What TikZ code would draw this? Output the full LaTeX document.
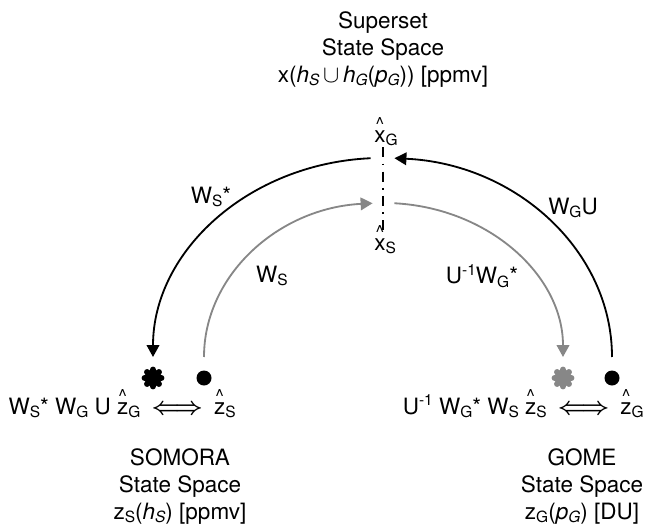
\documentclass[tikz,border=0pt]{standalone}
\usepackage{amsmath,amssymb}
\usepackage{fontspec}
\setmainfont{TeX Gyre Heros}
\usetikzlibrary{arrows.meta}
\definecolor{arcgray}{gray}{0.53}
\newcommand{\hatted}[1]{\ooalign{#1\cr\hidewidth\raisebox{8pt}{\fontsize{13}{13}\selectfont\textasciicircum}\hidewidth\cr}}
\newcommand{\lo}[1]{\raisebox{-2.5pt}{\fontsize{11}{11}\selectfont #1}}
\newcommand{\hi}[1]{\raisebox{6pt}{\fontsize{11}{11}\selectfont #1}}

\begin{document}
\begin{tikzpicture}[x=0.025cm,y=0.025cm,>={Triangle[length=8.5pt,width=9pt]},
            every node/.style={font=\fontsize{16}{19}\selectfont,inner sep=0pt},
            blk/.style={line width=1.3pt,black},
            gry/.style={line width=1.3pt,arcgray},
            axisline/.style={line width=0.8pt,dash pattern=on 7pt off 4.5pt on 1.2pt off 4.5pt},
            dotnode/.style={circle,fill,minimum size=0.375cm,inner sep=0pt},
            astnode/.style={circle,minimum size=0.6cm,inner sep=0pt,
                path picture={\foreach \a in {0,45,90,135}
                    \draw[line width=4.3pt,line cap=round] (path picture bounding box.center) +(\a:0.21cm) -- +(\a+180:0.21cm);}}]
            \useasboundingbox (0,0) rectangle (656,528);
            \node[align=center,anchor=north] (super) at (383,516.5) {Superset\\State Space\\x(\textit{h}\lo{\textit{S}}\,$\cup$\,\textit{h}\lo{\textit{G}}(\textit{p}\lo{\textit{G}})) [ppmv]};
            \node[anchor=base west] (xg) at (374,386) {\hatted{x}\lo{G}};
            \node[anchor=base west] (xs) at (374,278) {\hatted{x}\lo{S}};
            \coordinate (axis) at (383,0);
            \draw[axisline] ([yshift=-1pt]xg.south -| axis) -- ([yshift=2pt]xs.north -| axis);
            \node[dotnode] (sdot) at (204,150) {};
            \node[dotnode] (gdot) at (612,150) {};
            \node[astnode,black] (sast) at (153,150) {};
            \node[astnode,arcgray] (gast) at (563,150) {};
            \draw[blk,<-] ([yshift=0.525cm]sast.center) arc[start angle=180,end angle=93,x radius=5.7375cm,y radius=4.975cm];
            \draw[blk,->] ([yshift=0.525cm]gdot.center) arc[start angle=0,end angle=87,x radius=5.7375cm,y radius=4.975cm];
            \draw[gry,->] ([yshift=0.525cm]sdot.center) arc[start angle=180,end angle=93.5,x radius=4.4875cm,y radius=3.85cm];
            \draw[gry,<-] ([yshift=0.525cm]gast.center) arc[start angle=0,end angle=86.5,x radius=4.4875cm,y radius=3.85cm];
            \node (wsstar) at (211,331) {W\lo{S}*};
            \node (ws) at (272,252) {W\lo{S}};
            \node (uwg) at (482,252) {U\hi{-1}W\lo{G}*};
            \node (wgu) at (573,320) {W\lo{G}U};
            \node[anchor=base east] (sexpr) at (236,114) {W\lo{S}* W\lo{G} U \hatted{z}\lo{G}\hspace{8pt}{\boldmath$\Longleftrightarrow$}\hspace{8pt}\hatted{z}\lo{S}};
            \node[anchor=base east] (gexpr) at (644,114) {U\hi{-1} W\lo{G}* W\lo{S} \hatted{z}\lo{S}\hspace{8pt}{\boldmath$\Longleftrightarrow$}\hspace{8pt}\hatted{z}\lo{G}};
            \node[align=center,anchor=north] (somora) at (180,79.5) {SOMORA\\State Space\\z\lo{S}(\textit{h}\lo{\textit{S}}) [ppmv]};
            \node[align=center,anchor=north] (gome) at (582,79.5) {GOME\\State Space\\z\lo{G}(\textit{p}\lo{\textit{G}}) [DU]};
        \end{tikzpicture}
\end{document}
